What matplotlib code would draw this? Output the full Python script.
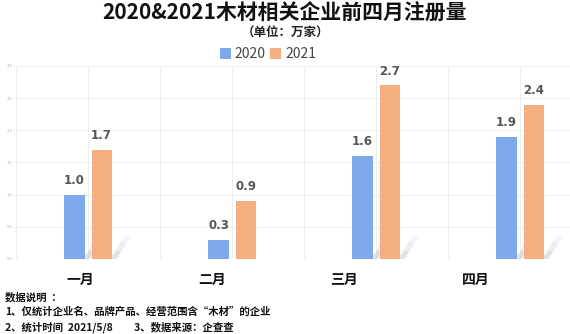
import numpy as np
import matplotlib.pyplot as plt
from matplotlib.patches import Polygon

plt.rcParams['font.family'] = ['Noto Sans CJK SC', 'DejaVu Sans']

# registrations per month, unit: 10k companies
months = ['一月', '二月', '三月', '四月']
v2020 = [1.0, 0.3, 1.6, 1.9]
v2021 = [1.7, 0.9, 2.7, 2.4]
years = ['2020', '2021']
yticks = [0.0, 0.5, 1.0, 1.5, 2.0, 2.5, 3.0]

c2020 = '#7eaaec'
c2021 = '#f5ae80'

fig = plt.figure(figsize=(5.70, 3.34), dpi=100)
ax = fig.add_axes([0.0246, 0.2246, 0.9754, 0.5778])

x = np.arange(len(months))
w = 0.139
off = 0.094

# faint slanted shadow at the foot of the taller bars
def shadow(xc, h):
    if h < 1.0:
        return
    x0 = xc + w / 2
    for k, a in enumerate([0.35, 0.22, 0.12]):
        y0, y1 = 0.12 * k, 0.12 * (k + 1)
        pts = [(x0 - 0.01 + y0 * 0.28, y0), (x0 + 0.035 + y0 * 0.28, y0),
               (x0 + 0.035 + y1 * 0.28, y1), (x0 - 0.01 + y1 * 0.28, y1)]
        ax.add_patch(Polygon(pts, closed=True, facecolor='#b0b0b0', alpha=a,
                             edgecolor='none', zorder=1))

for xi, a, b in zip(x, v2020, v2021):
    shadow(xi - off, a)
    shadow(xi + off, b)

b1 = ax.bar(x - off, v2020, w, color=c2020, label=years[0], zorder=3)
b2 = ax.bar(x + off, v2021, w, color=c2021, label=years[1], zorder=3)

for bars, vals in ((b1, v2020), (b2, v2021)):
    for r, v in zip(bars, vals):
        ax.text(r.get_x() + r.get_width() / 2, v + 0.12, f'{v:.1f}',
                ha='center', va='bottom', fontsize=8.5, fontweight='bold',
                color='#555555', family='DejaVu Sans')

ax.set_xlim(-0.514, 3.347)
ax.set_ylim(0, 3.0)
ax.set_yticks(yticks)
ax.set_yticklabels([f'{t:.1f}' for t in yticks], fontsize=3, color='#aaaaaa')
ax.set_xticks(np.arange(-0.5, 3.4, 0.5), minor=True)
ax.grid(True, which='major', axis='y', color='#eeeeee', lw=0.7)
ax.grid(True, which='minor', axis='x', color='#eeeeee', lw=0.7)
ax.set_axisbelow(True)

# month labels sit on a slightly tighter spacing than the bar groups
ax.set_xticks(x * 0.917 - 0.056)
ax.set_xticklabels(months, fontsize=10, fontweight='bold', color='#111111')
ax.tick_params(axis='x', which='both', length=0, pad=10)
ax.tick_params(axis='y', length=0, pad=1)
for s in ax.spines.values():
    s.set_visible(False)

fig.text(0.5, 0.961, '2020&2021木材相关企业前四月注册量', ha='center', va='center',
         fontsize=15, fontweight='bold', color='#111111')
fig.text(0.5, 0.901, '（单位：万家）', ha='center', va='center',
         fontsize=9, fontweight='bold', color='#222222')
fig.legend(handles=[b1, b2], loc='center', bbox_to_anchor=(0.47, 0.838),
           ncol=2, frameon=False, fontsize=10, handlelength=0.8,
           handleheight=0.8, handletextpad=0.3, columnspacing=0.3,
           labelcolor='#444444')

notes = ['数据说明  ：',
         '1、仅统计企业名、品牌产品、经营范围含“木材”的企业',
         '2、统计时间  2021/5/8         3、数据来源：企查查']
for i, t in enumerate(notes):
    fig.text(0.009, 0.111 - i * 0.045, t, ha='left', va='center',
             fontsize=7.5, fontweight='bold', color='#111111')

fig.savefig('out.png', dpi=100)
